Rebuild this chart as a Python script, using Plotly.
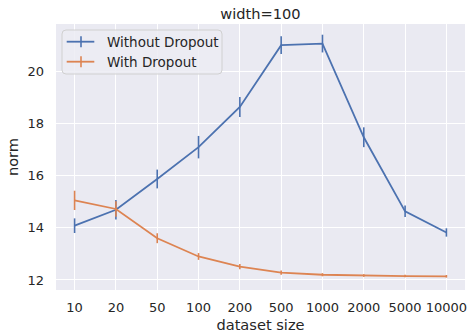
import plotly.graph_objects as go

# dataset sizes (categorical x) and mean weight norms with their spread
dataset_sizes = ["10", "20", "50", "100", "200", "500", "1000", "2000", "5000", "10000"]

norm_no_dropout = [14.08, 14.69, 15.87, 17.09, 18.63, 21.00, 21.06, 17.47, 14.63, 13.82]
err_no_dropout = [0.28, 0.37, 0.36, 0.43, 0.38, 0.34, 0.34, 0.38, 0.22, 0.16]

norm_dropout = [15.05, 14.72, 13.60, 12.90, 12.51, 12.28, 12.20, 12.17, 12.15, 12.14]
err_dropout = [0.37, 0.30, 0.19, 0.13, 0.10, 0.08, 0.06, 0.05, 0.05, 0.05]

series_names = ["Without Dropout", "With Dropout"]
colors = ["#4C72B0", "#DD8452"]

W, H = 470, 333
ML, MR, MT, MB = 56, 5, 24, 43
PW, PH = W - ML - MR, H - MT - MB
TEXT = "#262626"
FONT = "DejaVu Sans"


def px(xp):
    return (xp - ML) / PW


def py(yp):
    return (MT + PH - yp) / PH


fig = go.Figure()
for name, vals, errs, col in [
    (series_names[0], norm_no_dropout, err_no_dropout, colors[0]),
    (series_names[1], norm_dropout, err_dropout, colors[1]),
]:
    fig.add_trace(go.Scatter(
        x=list(range(len(dataset_sizes))), y=vals, name=name, mode="lines",
        line=dict(color=col, width=1.8),
        error_y=dict(type="data", array=errs, visible=True, color=col,
                     thickness=1.6, width=0),
        showlegend=False,
    ))

# legend box drawn in paper space
shapes = []
bx0, bx1, by0, by1, r = 62, 222, 30, 74, 4
path = (
    f"M {px(bx0 + r)} {py(by0)} L {px(bx1 - r)} {py(by0)} "
    f"Q {px(bx1)} {py(by0)} {px(bx1)} {py(by0 + r)} "
    f"L {px(bx1)} {py(by1 - r)} Q {px(bx1)} {py(by1)} {px(bx1 - r)} {py(by1)} "
    f"L {px(bx0 + r)} {py(by1)} Q {px(bx0)} {py(by1)} {px(bx0)} {py(by1 - r)} "
    f"L {px(bx0)} {py(by0 + r)} Q {px(bx0)} {py(by0)} {px(bx0 + r)} {py(by0)} Z"
)
shapes.append(dict(type="path", xref="paper", yref="paper", path=path,
                   fillcolor="rgba(236,236,243,0.85)",
                   line=dict(color="#D0D0D0", width=1), layer="above"))
annotations = []
for i, (name, col) in enumerate(zip(series_names, colors)):
    yc = 41.7 + 20 * i
    shapes.append(dict(type="line", xref="paper", yref="paper",
                       x0=px(66.7), x1=px(94.3), y0=py(yc), y1=py(yc),
                       line=dict(color=col, width=1.8), layer="above"))
    shapes.append(dict(type="line", xref="paper", yref="paper",
                       x0=px(81), x1=px(81), y0=py(yc - 5.5), y1=py(yc + 5.5),
                       line=dict(color=col, width=1.6), layer="above"))
    annotations.append(dict(xref="paper", yref="paper", x=px(104.5), y=py(yc),
                            xanchor="left", yanchor="middle", showarrow=False,
                            text=name, font=dict(family=FONT, size=13.5, color=TEXT)))

fig.update_layout(
    width=W, height=H,
    margin=dict(l=ML, r=MR, t=MT, b=MB),
    paper_bgcolor="white", plot_bgcolor="#EAEAF2",
    font=dict(family=FONT, size=13, color=TEXT),
    title=dict(text="width=100", x=(ML + PW / 2) / W, xanchor="center",
               y=1 - 14 / H, yanchor="middle",
               font=dict(family=FONT, size=14.6, color=TEXT)),
    shapes=shapes, annotations=annotations,
    showlegend=False,
)
fig.update_xaxes(
    range=[-0.45, 9.45], tickmode="array",
    tickvals=list(range(len(dataset_sizes))), ticktext=dataset_sizes,
    showgrid=True, gridcolor="white", gridwidth=1.2, zeroline=False,
    showline=False, ticks="", ticklabelstandoff=8, automargin=False,
    title=dict(text="dataset size", font=dict(size=14.6), standoff=8),
    tickfont=dict(size=13),
)
fig.update_yaxes(
    range=[11.615, 21.81], tickvals=[12, 14, 16, 18, 20],
    showgrid=True, gridcolor="white", gridwidth=1.2, zeroline=False,
    showline=False, ticks="", ticklabelstandoff=11, automargin=False,
    title=dict(text="norm", font=dict(size=14.6), standoff=5),
    tickfont=dict(size=13),
)

fig.write_html("out.html")
